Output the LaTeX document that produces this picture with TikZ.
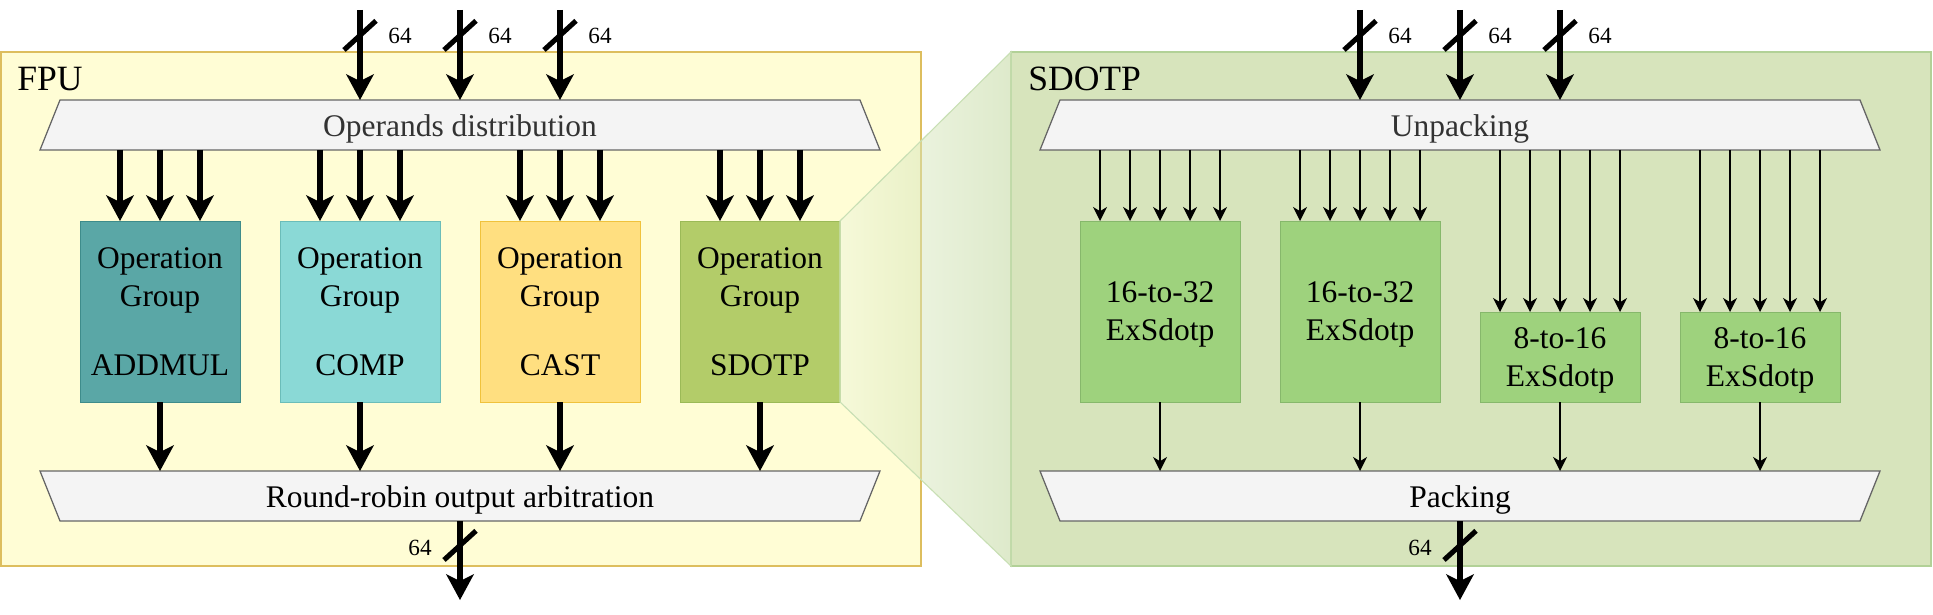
\documentclass[tikz,border=0pt]{standalone}
\usepackage{fontspec}
\setmainfont{Liberation Serif}
\usepackage{color}
\usepackage{tikz}
\usetikzlibrary{arrows.meta, backgrounds, positioning}
\pgfdeclarelayer{edgelayer}
\pgfdeclarelayer{nodelayer}
\pgfsetlayers{nodelayer,main,edgelayer}

\definecolor{fpufill}{HTML}{FFFDD5}
\definecolor{fpuline}{HTML}{DDBE5E}
\definecolor{sdotpfill}{HTML}{D7E4BC}
\definecolor{sdotpline}{HTML}{B2D197}
\definecolor{addmulfill}{HTML}{5AA7A6}
\definecolor{addmulline}{HTML}{3E8C8B}
\definecolor{compfill}{HTML}{8AD9D6}
\definecolor{compline}{HTML}{6BBDB9}
\definecolor{castfill}{HTML}{FFDF80}
\definecolor{castline}{HTML}{F0C23C}
\definecolor{dotpfill}{HTML}{B3CC69}
\definecolor{dotpline}{HTML}{9BBA57}
\definecolor{exfill}{HTML}{9ED27D}
\definecolor{exline}{HTML}{86B86B}
\definecolor{muxfill}{HTML}{F4F4F4}
\definecolor{muxline}{HTML}{666666}
\definecolor{muxtext}{HTML}{333333}
\definecolor{coneleft}{HTML}{EEF6DD}
\definecolor{coneright}{HTML}{BDD597}
\definecolor{coneline}{HTML}{C8DFB4}

\tikzset{
	container/.style={draw, line width=1.4pt, minimum width=23cm, minimum height=12.85cm, inner sep=0pt, outer sep=0pt},
	title/.style={anchor=base west, inner sep=0pt, font=\fontsize{25.3}{30}\selectfont},
	group/.style={draw, line width=0.7pt, minimum width=4cm, minimum height=4.525cm, inner sep=0pt, outer sep=0pt, align=center, font=\fontsize{22.4}{27}\selectfont},
	exdotp/.style={group, fill=exfill, draw=exline, text depth=0pt},
	mux/.style={draw=muxline, fill=muxfill, line width=0.9pt},
	mux text/.style={inner sep=0pt, text depth=0pt, font=\fontsize{22.4}{27}\selectfont},
	bus/.style={line width=4.4pt, -{Stealth[length=18.5pt, width=20pt, inset=5pt, line width=0pt]}},
	wire/.style={line width=1.4pt, -{Stealth[length=10pt, width=10pt, inset=3pt, line width=0pt]}},
	bus slash/.style={line width=3.6pt},
	bus width/.style={inner sep=0pt, font=\fontsize{16.5}{20}\selectfont},
	zoom cone/.style={draw=coneline, line width=0.8pt, left color=coneleft, right color=coneright, fill opacity=0.5},
}

\begin{document}
\begin{tikzpicture}
	\useasboundingbox (0, 0) rectangle (48.325, 15.35);
	\begin{pgfonlayer}{nodelayer}
		\node [container, fill=fpufill, draw=fpuline] (0) at (11.525, 7.625) {};
		\node [container, fill=sdotpfill, draw=sdotpline] (1) at (36.775, 7.625) {};
		\node [title] (2) at (0.425, 13.075) {FPU};
		\node [title] (3) at (25.7, 13.075) {SDOTP};
		\node [group, fill=addmulfill, draw=addmulline] (4) at (4, 7.5625) {Operation\\Group\\[22pt]ADDMUL};
		\node [group, fill=compfill, draw=compline] (5) at (9, 7.5625) {Operation\\Group\\[22pt]COMP};
		\node [group, fill=castfill, draw=castline] (6) at (14, 7.5625) {Operation\\Group\\[22pt]CAST};
		\node [group, fill=dotpfill, draw=dotpline] (7) at (19, 7.5625) {Operation\\Group\\[22pt]SDOTP};
		\node [exdotp] (8) at (29, 7.5625) {16-to-32\\ExSdotp};
		\node [exdotp] (9) at (34, 7.5625) {16-to-32\\ExSdotp};
		\node [exdotp, minimum height=2.25cm] (10) at (39, 6.425) {8-to-16\\ExSdotp};
		\node [exdotp, minimum height=2.25cm] (11) at (44, 6.425) {8-to-16\\ExSdotp};
		\node [] (12) at (1.5, 12.85) {};
		\node [] (13) at (21.5, 12.85) {};
		\node [] (14) at (22, 11.6) {};
		\node [] (15) at (1, 11.6) {};
		\node [] (16) at (1, 3.575) {};
		\node [] (17) at (22, 3.575) {};
		\node [] (18) at (21.5, 2.325) {};
		\node [] (19) at (1.5, 2.325) {};
		\node [] (20) at (26.5, 12.85) {};
		\node [] (21) at (46.5, 12.85) {};
		\node [] (22) at (47, 11.6) {};
		\node [] (23) at (26, 11.6) {};
		\node [] (24) at (26, 3.575) {};
		\node [] (25) at (47, 3.575) {};
		\node [] (26) at (46.5, 2.325) {};
		\node [] (27) at (26.5, 2.325) {};
		\node [] (28) at (9, 15.1) {};
		\node [] (29) at (9, 12.85) {};
		\node [] (30) at (11.5, 15.1) {};
		\node [] (31) at (11.5, 12.85) {};
		\node [] (32) at (14, 15.1) {};
		\node [] (33) at (14, 12.85) {};
		\node [] (34) at (8.6, 14.1) {};
		\node [] (35) at (9.4, 14.83) {};
		\node [] (36) at (11.1, 14.1) {};
		\node [] (37) at (11.9, 14.83) {};
		\node [] (38) at (13.6, 14.1) {};
		\node [] (39) at (14.4, 14.83) {};
		\node [bus width] (40) at (10, 14.44) {64};
		\node [bus width] (41) at (12.5, 14.44) {64};
		\node [bus width] (42) at (15, 14.44) {64};
		\node [] (43) at (3, 11.6) {};
		\node [] (44) at (3, 9.825) {};
		\node [] (45) at (4, 11.6) {};
		\node [] (46) at (4, 9.825) {};
		\node [] (47) at (5, 11.6) {};
		\node [] (48) at (5, 9.825) {};
		\node [] (49) at (8, 11.6) {};
		\node [] (50) at (8, 9.825) {};
		\node [] (51) at (9, 11.6) {};
		\node [] (52) at (9, 9.825) {};
		\node [] (53) at (10, 11.6) {};
		\node [] (54) at (10, 9.825) {};
		\node [] (55) at (13, 11.6) {};
		\node [] (56) at (13, 9.825) {};
		\node [] (57) at (14, 11.6) {};
		\node [] (58) at (14, 9.825) {};
		\node [] (59) at (15, 11.6) {};
		\node [] (60) at (15, 9.825) {};
		\node [] (61) at (18, 11.6) {};
		\node [] (62) at (18, 9.825) {};
		\node [] (63) at (19, 11.6) {};
		\node [] (64) at (19, 9.825) {};
		\node [] (65) at (20, 11.6) {};
		\node [] (66) at (20, 9.825) {};
		\node [] (67) at (4, 5.3) {};
		\node [] (68) at (4, 3.575) {};
		\node [] (69) at (9, 5.3) {};
		\node [] (70) at (9, 3.575) {};
		\node [] (71) at (14, 5.3) {};
		\node [] (72) at (14, 3.575) {};
		\node [] (73) at (19, 5.3) {};
		\node [] (74) at (19, 3.575) {};
		\node [] (75) at (11.5, 2.325) {};
		\node [] (76) at (11.5, 0.35) {};
		\node [] (77) at (11.1, 1.35) {};
		\node [] (78) at (11.9, 2.08) {};
		\node [bus width] (79) at (10.5, 1.65) {64};
		\node [] (80) at (34, 15.1) {};
		\node [] (81) at (34, 12.85) {};
		\node [] (82) at (36.5, 15.1) {};
		\node [] (83) at (36.5, 12.85) {};
		\node [] (84) at (39, 15.1) {};
		\node [] (85) at (39, 12.85) {};
		\node [] (86) at (33.6, 14.1) {};
		\node [] (87) at (34.4, 14.83) {};
		\node [] (88) at (36.1, 14.1) {};
		\node [] (89) at (36.9, 14.83) {};
		\node [] (90) at (38.6, 14.1) {};
		\node [] (91) at (39.4, 14.83) {};
		\node [bus width] (92) at (35, 14.44) {64};
		\node [bus width] (93) at (37.5, 14.44) {64};
		\node [bus width] (94) at (40, 14.44) {64};
		\node [] (95) at (27.5, 11.6) {};
		\node [] (96) at (27.5, 9.825) {};
		\node [] (97) at (28.25, 11.6) {};
		\node [] (98) at (28.25, 9.825) {};
		\node [] (99) at (29, 11.6) {};
		\node [] (100) at (29, 9.825) {};
		\node [] (101) at (29.75, 11.6) {};
		\node [] (102) at (29.75, 9.825) {};
		\node [] (103) at (30.5, 11.6) {};
		\node [] (104) at (30.5, 9.825) {};
		\node [] (105) at (32.5, 11.6) {};
		\node [] (106) at (32.5, 9.825) {};
		\node [] (107) at (33.25, 11.6) {};
		\node [] (108) at (33.25, 9.825) {};
		\node [] (109) at (34, 11.6) {};
		\node [] (110) at (34, 9.825) {};
		\node [] (111) at (34.75, 11.6) {};
		\node [] (112) at (34.75, 9.825) {};
		\node [] (113) at (35.5, 11.6) {};
		\node [] (114) at (35.5, 9.825) {};
		\node [] (115) at (37.5, 11.6) {};
		\node [] (116) at (37.5, 7.55) {};
		\node [] (117) at (38.25, 11.6) {};
		\node [] (118) at (38.25, 7.55) {};
		\node [] (119) at (39, 11.6) {};
		\node [] (120) at (39, 7.55) {};
		\node [] (121) at (39.75, 11.6) {};
		\node [] (122) at (39.75, 7.55) {};
		\node [] (123) at (40.5, 11.6) {};
		\node [] (124) at (40.5, 7.55) {};
		\node [] (125) at (42.5, 11.6) {};
		\node [] (126) at (42.5, 7.55) {};
		\node [] (127) at (43.25, 11.6) {};
		\node [] (128) at (43.25, 7.55) {};
		\node [] (129) at (44, 11.6) {};
		\node [] (130) at (44, 7.55) {};
		\node [] (131) at (44.75, 11.6) {};
		\node [] (132) at (44.75, 7.55) {};
		\node [] (133) at (45.5, 11.6) {};
		\node [] (134) at (45.5, 7.55) {};
		\node [] (135) at (29, 5.3) {};
		\node [] (136) at (29, 3.575) {};
		\node [] (137) at (34, 5.3) {};
		\node [] (138) at (34, 3.575) {};
		\node [] (139) at (39, 5.3) {};
		\node [] (140) at (39, 3.575) {};
		\node [] (141) at (44, 5.3) {};
		\node [] (142) at (44, 3.575) {};
		\node [] (143) at (36.5, 2.325) {};
		\node [] (144) at (36.5, 0.35) {};
		\node [] (145) at (36.1, 1.35) {};
		\node [] (146) at (36.9, 2.08) {};
		\node [bus width] (147) at (35.5, 1.65) {64};
	\end{pgfonlayer}
	% zoom and muxes
	\draw [zoom cone] (7.north east) -- (1.north west) -- (1.south west) -- (7.south east) -- cycle;
	\draw [mux] (12.center) -- (13.center) -- (14.center) -- (15.center) -- cycle;
	\draw [mux] (16.center) -- (17.center) -- (18.center) -- (19.center) -- cycle;
	\draw [mux] (20.center) -- (21.center) -- (22.center) -- (23.center) -- cycle;
	\draw [mux] (24.center) -- (25.center) -- (26.center) -- (27.center) -- cycle;
	\node [mux text, text=muxtext] (148) at (11.5, 12.2) {Operands distribution};
	\node [mux text] (149) at (11.5, 2.925) {Round-robin output arbitration};
	\node [mux text, text=muxtext] (150) at (36.5, 12.2) {Unpacking};
	\node [mux text] (151) at (36.5, 2.925) {Packing};
	\begin{pgfonlayer}{edgelayer}
		\draw [bus] (28.center) to (29.center);
		\draw [bus] (30.center) to (31.center);
		\draw [bus] (32.center) to (33.center);
		\draw [bus slash] (34.center) to (35.center);
		\draw [bus slash] (36.center) to (37.center);
		\draw [bus slash] (38.center) to (39.center);
		\draw [bus] (43.center) to (44.center);
		\draw [bus] (45.center) to (46.center);
		\draw [bus] (47.center) to (48.center);
		\draw [bus] (49.center) to (50.center);
		\draw [bus] (51.center) to (52.center);
		\draw [bus] (53.center) to (54.center);
		\draw [bus] (55.center) to (56.center);
		\draw [bus] (57.center) to (58.center);
		\draw [bus] (59.center) to (60.center);
		\draw [bus] (61.center) to (62.center);
		\draw [bus] (63.center) to (64.center);
		\draw [bus] (65.center) to (66.center);
		\draw [bus] (67.center) to (68.center);
		\draw [bus] (69.center) to (70.center);
		\draw [bus] (71.center) to (72.center);
		\draw [bus] (73.center) to (74.center);
		\draw [bus] (75.center) to (76.center);
		\draw [bus slash] (77.center) to (78.center);
		\draw [bus] (80.center) to (81.center);
		\draw [bus] (82.center) to (83.center);
		\draw [bus] (84.center) to (85.center);
		\draw [bus slash] (86.center) to (87.center);
		\draw [bus slash] (88.center) to (89.center);
		\draw [bus slash] (90.center) to (91.center);
		\draw [wire] (95.center) to (96.center);
		\draw [wire] (97.center) to (98.center);
		\draw [wire] (99.center) to (100.center);
		\draw [wire] (101.center) to (102.center);
		\draw [wire] (103.center) to (104.center);
		\draw [wire] (105.center) to (106.center);
		\draw [wire] (107.center) to (108.center);
		\draw [wire] (109.center) to (110.center);
		\draw [wire] (111.center) to (112.center);
		\draw [wire] (113.center) to (114.center);
		\draw [wire] (115.center) to (116.center);
		\draw [wire] (117.center) to (118.center);
		\draw [wire] (119.center) to (120.center);
		\draw [wire] (121.center) to (122.center);
		\draw [wire] (123.center) to (124.center);
		\draw [wire] (125.center) to (126.center);
		\draw [wire] (127.center) to (128.center);
		\draw [wire] (129.center) to (130.center);
		\draw [wire] (131.center) to (132.center);
		\draw [wire] (133.center) to (134.center);
		\draw [wire] (135.center) to (136.center);
		\draw [wire] (137.center) to (138.center);
		\draw [wire] (139.center) to (140.center);
		\draw [wire] (141.center) to (142.center);
		\draw [bus] (143.center) to (144.center);
		\draw [bus slash] (145.center) to (146.center);
	\end{pgfonlayer}
\end{tikzpicture}
\end{document}
